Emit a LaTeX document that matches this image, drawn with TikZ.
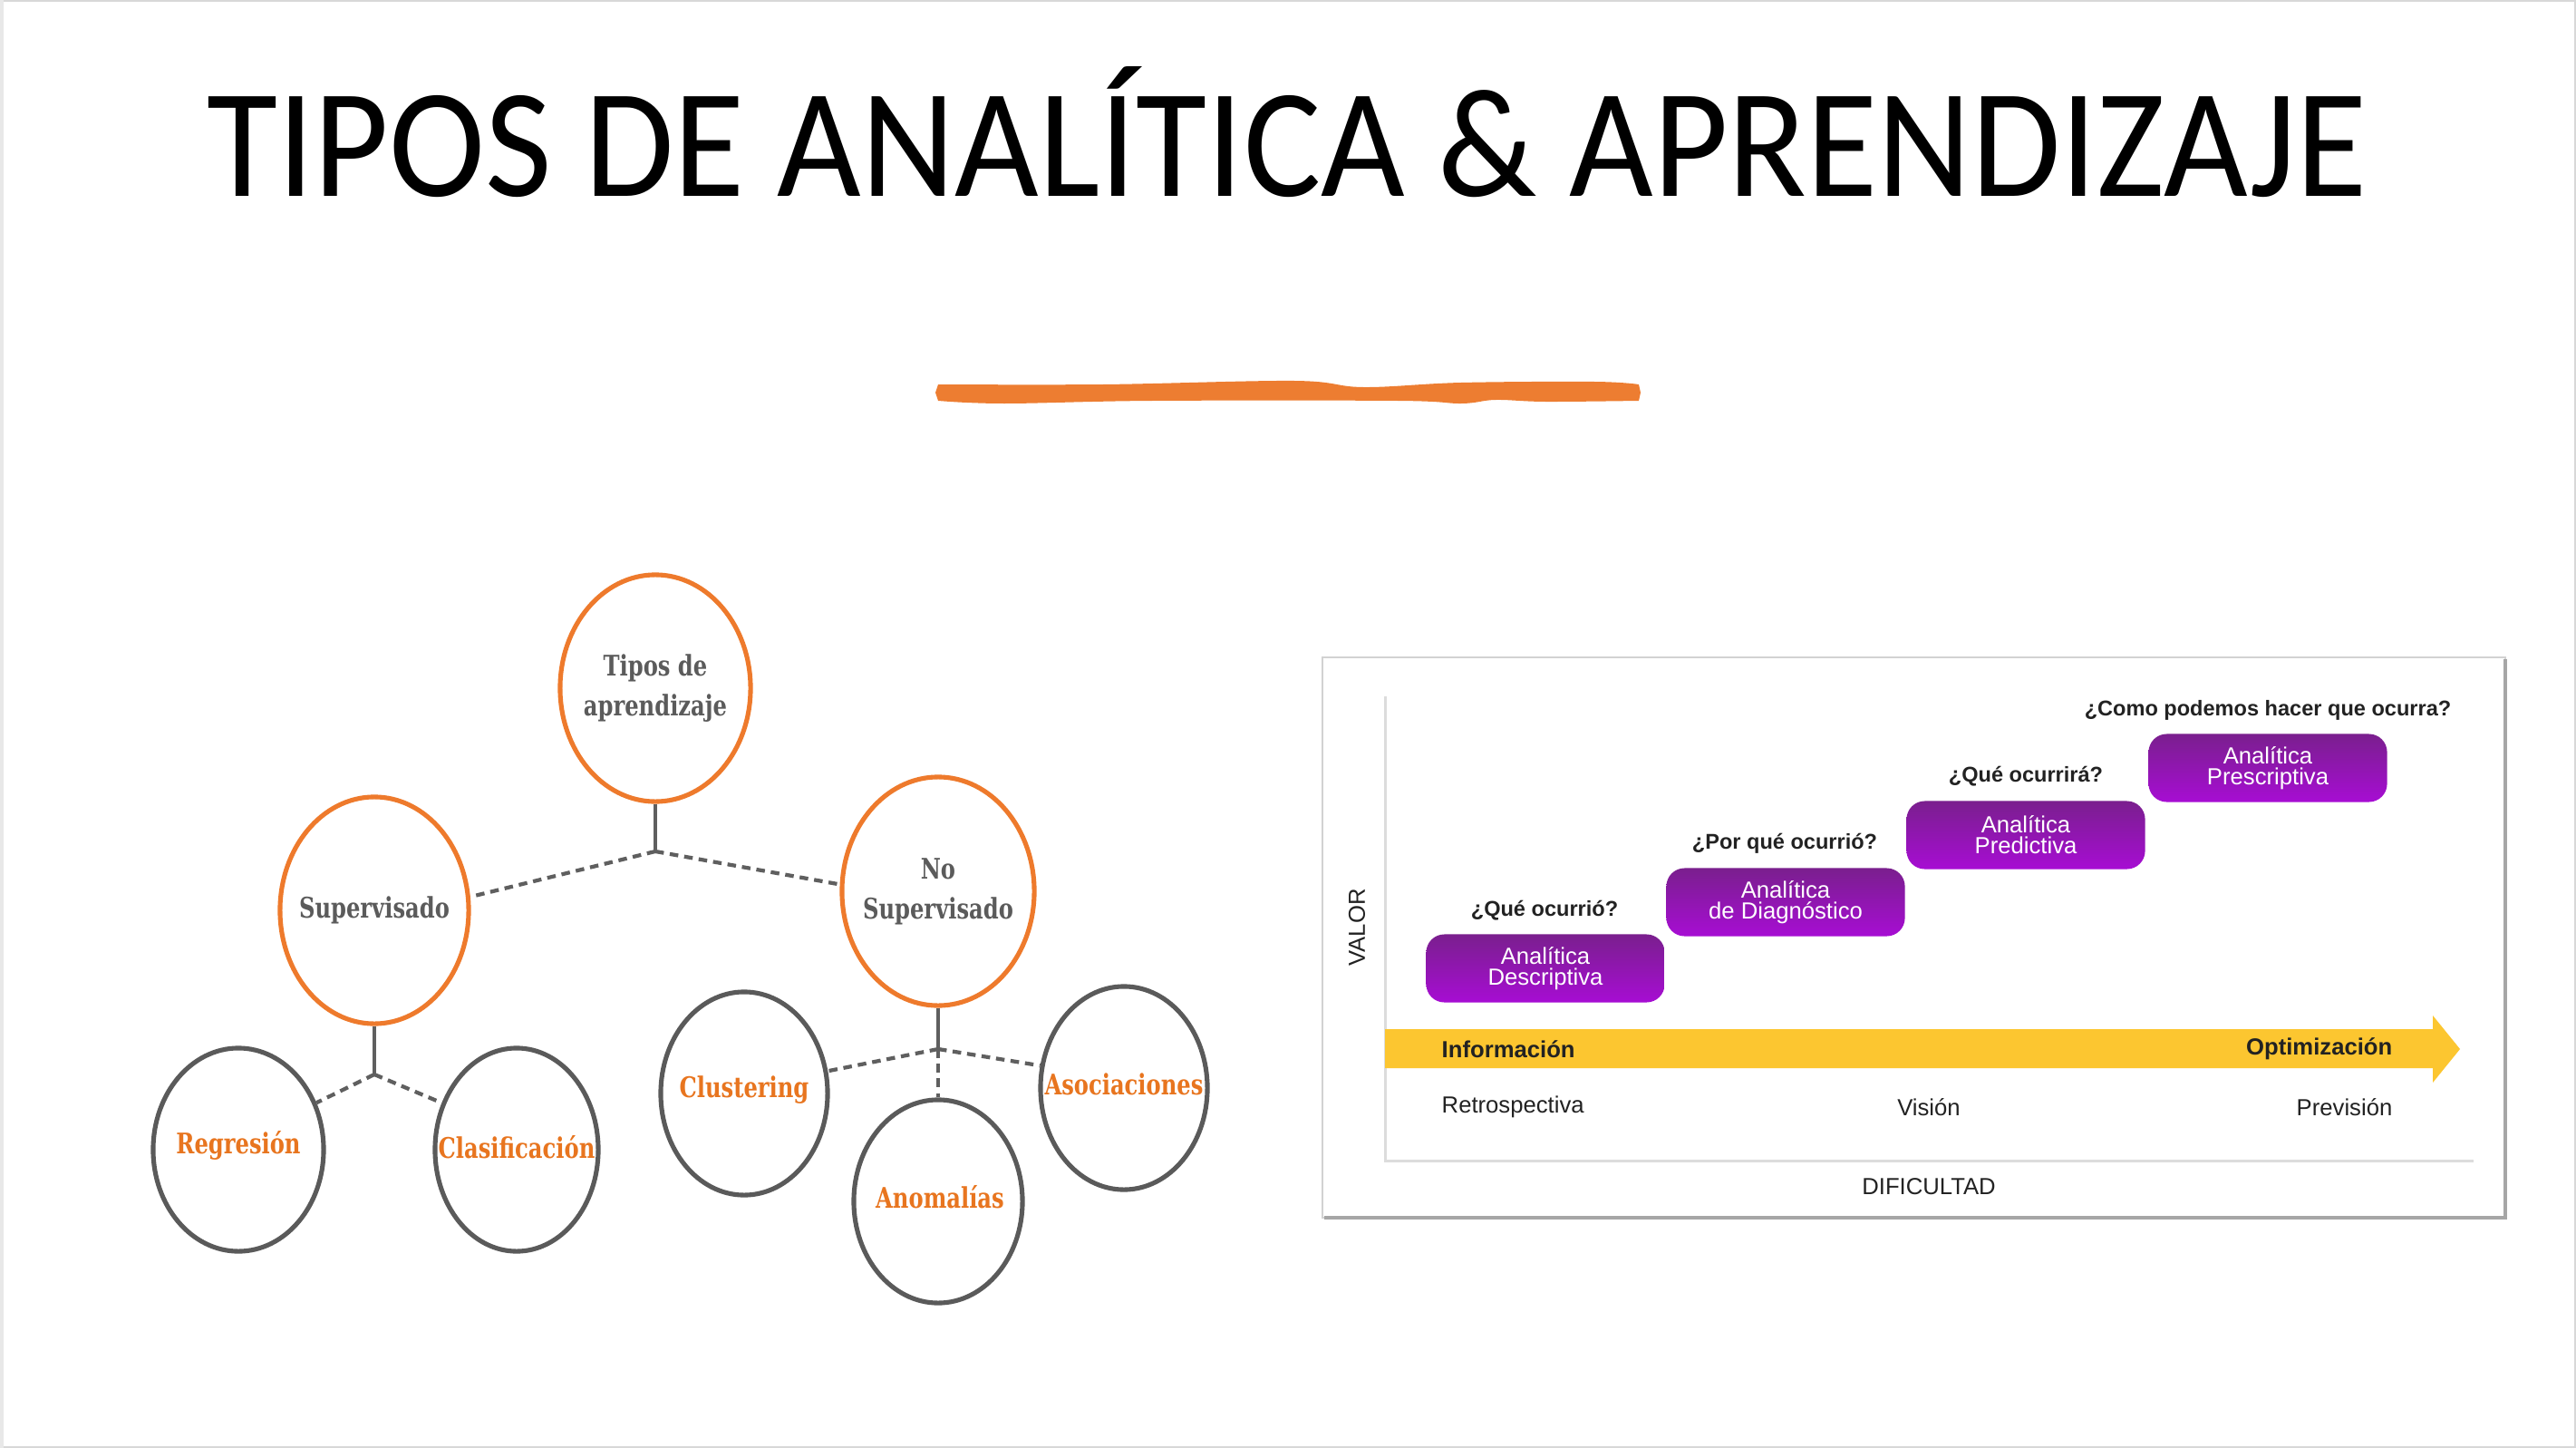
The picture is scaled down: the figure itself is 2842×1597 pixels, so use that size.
\documentclass[tikz,border=0pt]{standalone}
\usepackage{fontspec}
\setmainfont{Liberation Sans}
\newfontfamily\titlefont{Carlito}
\newfontfamily\treefont[FakeStretch=0.86]{DejaVu Serif Condensed}
\usetikzlibrary{shapes.geometric,calc}

\definecolor{brush}{HTML}{ED7D31}
\definecolor{ringor}{HTML}{EE7A2C}
\definecolor{ringgr}{HTML}{5A5A5A}
\definecolor{txtgr}{HTML}{5B5B5B}
\definecolor{txtor}{HTML}{E8751F}
\definecolor{linkgr}{HTML}{5F5F5F}
\definecolor{band}{HTML}{FCC630}
\definecolor{purtop}{HTML}{7A1F8E}
\definecolor{purbot}{HTML}{A70DD3}
\definecolor{axisgr}{HTML}{DCDCDC}
\definecolor{framegr}{HTML}{D2D2D2}
\definecolor{shadowgr}{HTML}{A6A6A6}
\definecolor{pagegr}{HTML}{D8D8D8}
\definecolor{inktx}{HTML}{222222}

\tikzset{
  ring/.style={ellipse, inner sep=0pt, line width=1.45pt},
  ringO/.style={ring, draw=ringor},
  ringG/.style={ring, draw=ringgr},
  ringtext/.style={font=\treefont\bfseries\fontsize{8.9}{12.5}\selectfont, align=center, inner sep=0pt},
  headtxt/.style={ringtext, text=txtgr},
  leaftxt/.style={ringtext, text=txtor},
  solidlink/.style={draw=linkgr, line width=1.2pt},
  dashlink/.style={draw=linkgr, line width=1.2pt, dash pattern=on 2.7pt off 1.9pt},
  stepbox/.style={rounded corners=0.2cm, top color=purtop, bottom color=purbot,
    minimum width=2.63cm, minimum height=0.75cm, inner sep=0pt, text=white, align=center,
    font=\fontsize{7.3}{6.6}\selectfont},
  question/.style={font=\bfseries\fontsize{6.7}{8}\selectfont, text=inktx, inner sep=0pt},
  chartlbl/.style={font=\fontsize{7.3}{8}\selectfont, text=inktx, inner sep=0pt},
  bandlbl/.style={font=\bfseries\fontsize{7.3}{8}\selectfont, text=inktx, inner sep=0pt},
}

\begin{document}
\begin{tikzpicture}[x=0.01cm, y=-0.01cm]
\useasboundingbox (0,0) rectangle (2842,1597);
\fill[white] (0,0) rectangle (2842,1597);
\draw[pagegr, line width=1pt] (0,0) rectangle (2842,1597);
\fill[pagegr!60] (0,0) rectangle (4,1597);

% heading and brush stroke
\node[font=\titlefont\fontsize{45.5}{50}\selectfont, anchor=base, inner sep=0pt] (title) at (1420,216)
  {\scalebox{1}[1.07]{TIPOS DE ANALÍTICA \& APRENDIZAJE}};
\fill[brush] plot[smooth, tension=0.6] coordinates {(1035,424) (1217,424) (1428,420) (1504,427) (1612,422) (1759,421) (1808,424)}
  -- (1810,433) --
  plot[smooth, tension=0.6] coordinates {(1808,442) (1705,443) (1650,441) (1612,445) (1542,442) (1271,442) (1108,445) (1035,442)}
  -- (1032,433) -- cycle;

% learning-type tree
\node[ringO, minimum width=2.10cm, minimum height=2.50cm] (tipos) at (723,759) {};
\node[headtxt] (tipos-t) at (tipos) {Tipos de\\aprendizaje};
\node[ringO, minimum width=2.08cm, minimum height=2.50cm] (sup) at (413,1004) {};
\node[headtxt] (sup-t) at (sup) {Supervisado};
\node[ringO, minimum width=2.12cm, minimum height=2.52cm] (nosup) at (1035,983) {};
\node[headtxt] (nosup-t) at (nosup) {No\\Supervisado};

\node[ringG, minimum width=1.88cm, minimum height=2.24cm] (reg) at (263,1268) {};
\node[leaftxt] (reg-t) at (263,1263) {Regresión};
\node[ringG, minimum width=1.80cm, minimum height=2.24cm] (clas) at (570,1268) {};
\node[leaftxt] (clas-t) at (570,1265) {Clasificación};
\node[ringG, minimum width=1.84cm, minimum height=2.24cm] (clus) at (821,1206) {};
\node[leaftxt] (clus-t) at (821,1202) {Clustering};
\node[ringG, minimum width=1.86cm, minimum height=2.24cm] (anom) at (1035,1325) {};
\node[leaftxt] (anom-t) at (1037,1320) {Anomalías};
\node[ringG, minimum width=1.84cm, minimum height=2.24cm] (asoc) at (1240,1200) {};
\node[leaftxt] (asoc-t) at (1240,1196) {Asociaciones};

\coordinate (j1) at (723,939);
\coordinate (j2) at (413,1185);
\coordinate (j3) at (1035,1157);

\draw[solidlink] (tipos.south) -- (j1);
\draw[dashlink] (j1) -- (sup.8);
\draw[dashlink] (j1) -- (nosup.176);
\draw[solidlink] (sup.south) -- (j2);
\draw[dashlink] (j2) -- (reg.31);
\draw[dashlink] (j2) -- (clas.148);
\draw[solidlink] (nosup.south) -- (j3);
\draw[dashlink] (j3) -- (clus.15);
\draw[dashlink] (j3) -- (asoc.165);
\draw[dashlink] (j3) -- (anom.north);

% analytics maturity chart
\fill[white] (1459,725) rectangle (2764,1343);
\draw[framegr, line width=0.8pt] (1459,725) rectangle (2764,1343);
\draw[shadowgr, line width=1.1pt] (2764,727) -- (2764,1343) -- (1461,1343);

\draw[axisgr, line width=0.85pt] (1528,768) -- (1528,1280) -- (2729,1280);

\fill[band] (1528,1135) -- (2684,1135) -- (2684,1120) -- (2714,1157) -- (2684,1194) -- (2684,1178) -- (1528,1178) -- cycle;
\node[bandlbl, anchor=west] (info) at (1590,1157) {Información};
\node[bandlbl, anchor=east] (optim) at (2640,1157) {Optimización};

\node[chartlbl, anchor=west] (retro) at (1590,1221) {Retrospectiva};
\node[chartlbl] (vision) at (2128,1221) {Visión};
\node[chartlbl, anchor=east] (previ) at (2640,1221) {Previsión};

\node[chartlbl, rotate=90] (valor) at (1497,1023) {VALOR};
\node[chartlbl] (dific) at (2128,1309) {DIFICULTAD};

\node[stepbox] (desc) at (1705,1068) {Analítica\\Descriptiva};
\node[stepbox] (diag) at (1970,995) {Analítica\\de Diagnóstico};
\node[stepbox] (pred) at (2235,921) {Analítica\\Predictiva};
\node[stepbox] (pres) at (2502,847) {Analítica\\Prescriptiva};

\node[question] (q1) at (1704,1004) {¿Qué ocurrió?};
\node[question] (q2) at (1969,930) {¿Por qué ocurrió?};
\node[question] (q3) at (2235,856) {¿Qué ocurrirá?};
\node[question] (q4) at (2502,783) {¿Como podemos hacer que ocurra?};
\end{tikzpicture}
\end{document}
